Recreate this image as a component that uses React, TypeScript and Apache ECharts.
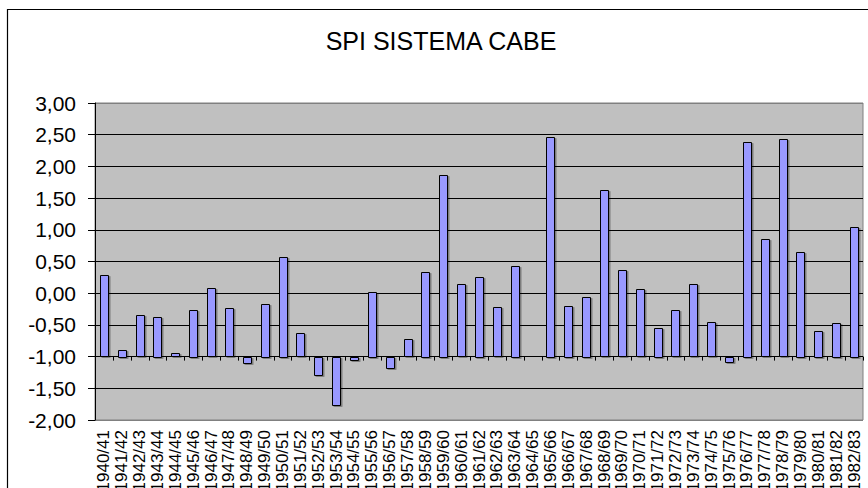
import React, { useEffect, useRef } from "react";
import * as echarts from "echarts";

const TITLE = "SPI SISTEMA CABE";

const CATEGORIES: string[] = [
  "1940/41", "1941/42", "1942/43", "1943/44", "1944/45", "1945/46", "1946/47", "1947/48",
  "1948/49", "1949/50", "1950/51", "1951/52", "1952/53", "1953/54", "1954/55", "1955/56",
  "1956/57", "1957/58", "1958/59", "1959/60", "1960/61", "1961/62", "1962/63", "1963/64",
  "1964/65", "1965/66", "1966/67", "1967/68", "1968/69", "1969/70", "1970/71", "1971/72",
  "1972/73", "1973/74", "1974/75", "1975/76", "1976/77", "1977/78", "1978/79", "1979/80",
  "1980/81", "1981/82", "1982/83",
];

const SPI_VALUES: (number | null)[] = [
  0.28, -0.89, -0.35, -0.37, -0.95, -0.26, 0.08, -0.24,
  -1.1, -0.17, 0.57, -0.63, -1.28, -1.76, -1.04, 0.02,
  -1.17, -0.73, 0.34, 1.87, 0.14, 0.26, -0.22, 0.43,
  null, 2.47, -0.2, -0.06, 1.62, 0.36, 0.06, -0.55,
  -0.27, 0.14, -0.46, -1.08, 2.39, 0.85, 2.43, 0.65,
  -0.59, -0.47, 1.05,
];

const BASELINE = -1;
const Y_MIN = -2;
const Y_MAX = 3;
const Y_STEP = 0.5;

const FONT = "'Liberation Sans', Arial, sans-serif";

export default function App() {
  const ref = useRef<HTMLDivElement>(null);

  useEffect(() => {
    if (!ref.current) return;
    const chart = echarts.init(ref.current, null, { renderer: "svg" });

    const nLines = Math.round((Y_MAX - Y_MIN) / Y_STEP) + 1;
    const gridColors: string[] = [];
    for (let i = 0; i < nLines; i++) {
      gridColors.push(i === 0 || i === nLines - 1 ? "#808080" : "#000000");
    }

    const data = SPI_VALUES.map((v, i) => [i, v]);

    const option: any = {
      animation: false,
      backgroundColor: "#ffffff",
      textStyle: { fontFamily: FONT },
      graphic: [
        {
          type: "rect",
          silent: true,
          shape: { x: 7.5, y: 9.5, width: 1000, height: 700 },
          style: { fill: "none", stroke: "#000", lineWidth: 1.2 },
          z: 100,
        },
        {
          type: "text",
          x: 441,
          y: 41,
          style: {
            text: TITLE,
            font: `25px ${FONT}`,
            fill: "#000",
            textAlign: "center",
            textVerticalAlign: "middle",
          },
        },
      ],
      grid: {
        left: 95,
        right: 5,
        top: 103,
        bottom: 68,
        show: true,
        containLabel: false,
        outerBoundsMode: "none",
        backgroundColor: "#C0C0C0",
        borderColor: "#808080",
        borderWidth: 1,
      },
      xAxis: {
        type: "category",
        data: CATEGORIES,
        boundaryGap: true,
        axisLine: { show: false },
        axisTick: { show: false },
        axisLabel: {
          interval: 0,
          rotate: 90,
          fontSize: 17,
          color: "#000",
          margin: 10,
          fontFamily: FONT,
          hideOverlap: false,
        },
        splitLine: { show: false },
      },
      yAxis: {
        type: "value",
        min: Y_MIN,
        max: Y_MAX,
        interval: Y_STEP,
        axisLine: { show: true, lineStyle: { color: "#000", width: 1 } },
        axisTick: { show: true, length: 7, lineStyle: { color: "#000" } },
        axisLabel: {
          fontSize: 21,
          color: "#000",
          margin: 19,
          fontFamily: FONT,
          formatter: (v: number) => v.toFixed(2).replace(".", ","),
        },
        splitLine: { show: true, lineStyle: { color: gridColors, width: 1 } },
      },
      series: [
        {
          type: "custom",
          name: TITLE,
          data,
          encode: { x: 0, y: 1 },
          clip: false,
          renderItem: (params: any, api: any) => {
            const idx = api.value(0);
            const raw = SPI_VALUES[idx];
            const base = api.coord([idx, BASELINE]);
            const band = api.size([1, 0])[0];
            const w = band * 0.45;
            const children: any[] = [];
            if (raw !== null && raw !== undefined) {
              const top = api.coord([idx, raw]);
              const y0 = Math.min(base[1], top[1]);
              const h = Math.abs(base[1] - top[1]);
              children.push({
                type: "rect",
                shape: { x: Math.round(base[0] - w / 2) + 0.5, y: Math.round(y0) + 0.5, width: Math.round(w), height: Math.max(Math.round(h), 1) },
                style: {
                  fill: "#9999FF",
                  stroke: "#000",
                  lineWidth: 1,
                  shadowColor: "rgba(0,0,0,0.35)",
                  shadowOffsetX: 1.5,
                  shadowOffsetY: 1,
                  shadowBlur: 1,
                },
              });
            }
            const tx = Math.round(base[0] + band / 2) + 0.5;
            children.push({
              type: "line",
              shape: { x1: tx, y1: base[1], x2: tx, y2: base[1] + 4 },
              style: { stroke: "#000", lineWidth: 1 },
            });
            return { type: "group", children };
          },
        },
      ],
    };

    chart.setOption(option);
    return () => chart.dispose();
  }, []);

  return (
    <div
      ref={ref}
      style={{ position: "fixed", left: 0, top: 0, width: 868, height: 488 }}
    />
  );
}
